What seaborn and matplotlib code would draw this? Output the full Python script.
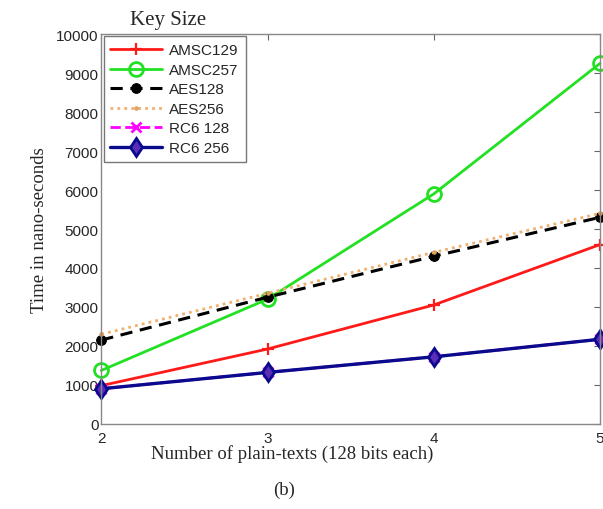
import numpy as np
import pandas as pd
import matplotlib
matplotlib.use('Agg')
import matplotlib.pyplot as plt
import seaborn as sns

plain_texts = [2, 3, 4, 5]
amsc129 = [980, 1920, 3050, 4600]
amsc257 = [1370, 3200, 5900, 9250]
aes128 = [2150, 3250, 4300, 5300]
aes256 = [2300, 3350, 4400, 5400]
rc6_128 = [900, 1320, 1720, 2170]
rc6_256 = [900, 1320, 1720, 2170]

sns.set_style('white')
plt.rcParams['font.family'] = ['Liberation Sans', 'DejaVu Sans']

fig = plt.figure(figsize=(6.03, 5.10), dpi=100)
ax = fig.add_axes([0.168, 0.167, 0.827, 0.764])

series = [
    ('AMSC129', amsc129, dict(color='#ff1a1a', marker='+', ls='-', lw=2, ms=9, mew=1.6,
                              mfc='none', mec='#ff1a1a')),
    ('AMSC257', amsc257, dict(color='#22e022', marker='o', ls='-', lw=2, ms=10, mew=2,
                              mfc='none', mec='#22e022')),
    ('AES128', aes128, dict(color='black', marker='o', ls=(0, (4, 2.5)), lw=2.2, ms=7,
                            mfc='black', mec='black')),
    ('AES256', aes256, dict(color='#f0b070', marker='.', ls=(0, (1, 1.5)), lw=2, ms=5,
                            mfc='#e0a060', mec='#e0a060')),
    ('RC6 128', rc6_128, dict(color='#ff00ff', marker='x', ls='--', lw=2, ms=7, mew=2,
                              mec='#ff00ff')),
    ('RC6 256', rc6_256, dict(color='#0a0a8c', marker='d', ls='-', lw=2.4, ms=9.5, mew=2,
                              mfc='#5a2cb8', mec='#0a0a8c')),
]

for name, vals, st in series:
    sns.lineplot(x=plain_texts, y=vals, ax=ax, label=name, clip_on=False, **st)

ax.set_xlim(2, 5)
ax.set_ylim(0, 10000)
ax.set_xticks(plain_texts)
ax.set_yticks(np.arange(0, 10001, 1000))
ax.tick_params(direction='in', length=4, top=True, right=True, labelsize=11,
               color='#666666', pad=2)
ax.tick_params(axis='x', pad=5)
for sp in ax.spines.values():
    sp.set_color('#888888')
    sp.set_linewidth(1)

ax.set_xlabel('Number of plain-texts (128 bits each)', family='Liberation Serif', fontsize=13.5)
ax.xaxis.set_label_coords(0.383, -0.052)
ax.set_ylabel('Time in nano-seconds', family='Liberation Serif', fontsize=13.5, labelpad=6)
fig.text(0.471, 0.022, '(b)', family='Liberation Serif', fontsize=13.5, ha='center', va='bottom')
fig.text(0.215, 0.942, 'Key Size', family='Liberation Serif', fontsize=15, ha='left', va='bottom')

leg = ax.legend(loc='upper left', fontsize=11, frameon=True, fancybox=False,
                handlelength=3.4, borderaxespad=0.15, labelspacing=0.36, handletextpad=0.45,
                borderpad=0.45)
leg.get_frame().set_edgecolor('#555555')
leg.get_frame().set_linewidth(1)

fig.savefig('out.png', dpi=100)
